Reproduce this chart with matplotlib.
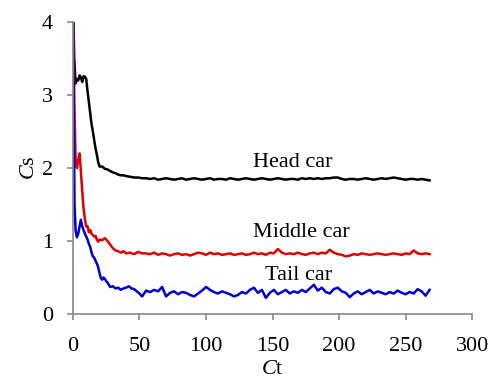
import numpy as np
import matplotlib
matplotlib.use('Agg')
import matplotlib.pyplot as plt

plt.rcParams['font.family'] = 'Liberation Serif'
plt.rcParams['mathtext.fontset'] = 'custom'
plt.rcParams['mathtext.rm'] = 'Liberation Serif'
plt.rcParams['mathtext.it'] = 'Liberation Serif:italic'

# steep start of each curve (read by eye)
ct_head_start = [0, 1, 2, 3, 4, 5, 6, 7, 8, 9, 10, 11, 12, 13, 14, 15, 16, 17, 18, 19, 20,
                 22, 24, 26, 28, 30, 32, 34, 36, 38, 40, 43, 46, 49, 52]
cs_head_start = [4.4, 3.5, 3.16, 3.22, 3.2, 3.27, 3.24, 3.18, 3.26, 3.25, 3.22, 3.05, 2.9, 2.75,
                 2.6, 2.5, 2.38, 2.27, 2.18, 2.08, 2.02,
                 2.02, 1.99, 1.98, 1.96, 1.94, 1.93, 1.91, 1.9, 1.9, 1.89, 1.88, 1.87, 1.87, 1.86]

ct_mid_start = [0, 1, 2, 3, 4, 5, 6, 7, 8, 9, 10, 11, 12, 13, 14, 15, 16, 17, 18, 19, 20,
                22, 24, 26, 28, 30, 32, 34, 36, 38, 40, 43, 46, 49, 52]
cs_mid_start = [4.4, 3.0, 2.1, 2.0, 2.12, 2.2, 1.95, 1.68, 1.45, 1.3, 1.2, 1.2, 1.12, 1.15,
                1.1, 1.08, 1.06, 1.07, 1.02, 0.99, 1.02,
                1.01, 1.04, 1.0, 0.95, 0.9, 0.87, 0.86, 0.84, 0.86, 0.83, 0.84, 0.82, 0.85, 0.83]

ct_tail_start = [0, 0.6, 1.2, 2, 3, 4, 5, 6, 7, 8, 9, 10, 11, 12, 13, 14, 15, 16, 17, 18, 19,
                 20, 21, 22, 23, 24, 25, 26, 27, 28, 30, 32, 34, 36, 38, 40, 42, 44, 46, 48, 50, 52]
cs_tail_start = [4.4, 2.8, 1.5, 1.15, 1.05, 1.1, 1.2, 1.29, 1.2, 1.15, 1.1, 1.06, 1.02, 0.96,
                 0.92, 0.84, 0.79, 0.77, 0.73, 0.69, 0.64,
                 0.56, 0.49, 0.47, 0.5, 0.48, 0.45, 0.43, 0.4, 0.37, 0.38, 0.35, 0.36, 0.33,
                 0.35, 0.36, 0.38, 0.35, 0.34, 0.31, 0.28, 0.24]

# plateau, sampled every 3 units of Ct from 55 to 268
ct_flat = np.arange(55, 269, 3)
cs_head_flat = [1.86, 1.85, 1.86, 1.84, 1.85, 1.86, 1.85, 1.84, 1.85, 1.86, 1.84, 1.85,
                1.86, 1.85, 1.84, 1.85, 1.86, 1.84, 1.85, 1.85, 1.84, 1.86, 1.85, 1.84,
                1.85, 1.86, 1.85, 1.84, 1.85, 1.86, 1.85, 1.84, 1.85, 1.86, 1.85, 1.84,
                1.85, 1.85, 1.84, 1.86, 1.85, 1.86, 1.85, 1.86, 1.85, 1.86, 1.86, 1.87,
                1.87, 1.85, 1.84, 1.85, 1.85, 1.84, 1.85, 1.86, 1.85, 1.84, 1.85, 1.86,
                1.85, 1.86, 1.87, 1.86, 1.85, 1.84, 1.85, 1.85, 1.84, 1.85, 1.84, 1.83]
cs_mid_flat = [0.83, 0.82, 0.84, 0.81, 0.83, 0.82, 0.80, 0.82, 0.83, 0.81, 0.82, 0.80,
               0.82, 0.84, 0.83, 0.81, 0.84, 0.82, 0.83, 0.81, 0.82, 0.83, 0.81, 0.82,
               0.83, 0.81, 0.82, 0.84, 0.82, 0.83, 0.81, 0.84, 0.83, 0.89, 0.84, 0.82,
               0.83, 0.82, 0.84, 0.82, 0.81, 0.83, 0.84, 0.82, 0.84, 0.83, 0.88, 0.84,
               0.82, 0.81, 0.79, 0.80, 0.82, 0.81, 0.83, 0.82, 0.81, 0.82, 0.83, 0.82,
               0.81, 0.82, 0.83, 0.82, 0.81, 0.83, 0.82, 0.87, 0.83, 0.82, 0.83, 0.82]
cs_tail_flat = [0.32, 0.30, 0.33, 0.31, 0.37, 0.24, 0.29, 0.31, 0.27, 0.30, 0.29, 0.26,
                0.24, 0.28, 0.32, 0.37, 0.33, 0.30, 0.28, 0.31, 0.29, 0.27, 0.24, 0.26,
                0.30, 0.28, 0.33, 0.36, 0.29, 0.33, 0.22, 0.29, 0.33, 0.27, 0.30, 0.33,
                0.28, 0.31, 0.29, 0.33, 0.30, 0.35, 0.40, 0.32, 0.36, 0.30, 0.28, 0.34,
                0.36, 0.31, 0.29, 0.23, 0.28, 0.31, 0.27, 0.30, 0.33, 0.28, 0.31, 0.29,
                0.27, 0.30, 0.28, 0.32, 0.29, 0.27, 0.30, 0.28, 0.34, 0.31, 0.25, 0.33]

series = [
    ('Head car', ct_head_start, cs_head_start, cs_head_flat, 'black', 2.08),
    ('Middle car', ct_mid_start, cs_mid_start, cs_mid_flat, '#e00000', 1.12),
    ('Tail car', ct_tail_start, cs_tail_start, cs_tail_flat, '#0000d0', 0.53),
]
label_x = [135, 135, 144]

fig = plt.figure(figsize=(4.96, 3.81), dpi=100)
ax = fig.add_axes([0.147, 0.176, 0.805, 0.766])

for (name, xs, ys, yflat, col, ly), lx in zip(series, label_x):
    x = np.concatenate([xs, ct_flat])
    y = np.concatenate([ys, yflat])
    ax.plot(x, y, color=col, lw=1.8)
    ax.text(lx, ly, name, fontsize=16, ha='left', va='center')

ax.set_xlim(0, 300)
ax.set_ylim(0, 4)
ax.set_xticks(range(0, 301, 50))
ax.set_yticks(range(0, 5))
for s in ['top', 'right']:
    ax.spines[s].set_visible(False)
for s in ['left', 'bottom']:
    ax.spines[s].set_color('#888888')
    ax.spines[s].set_linewidth(1.2)
ax.tick_params(colors='#888888', labelcolor='black', labelsize=16, length=4.5, width=1.2)
ax.tick_params(axis='y', pad=10)
ax.tick_params(axis='x', pad=12)
ax.set_xlabel(r'$\mathit{C}$t', fontsize=16, labelpad=3)
ax.set_ylabel(r'$\mathit{C}$s', fontsize=16, labelpad=2)

fig.savefig('out.png', dpi=100)
